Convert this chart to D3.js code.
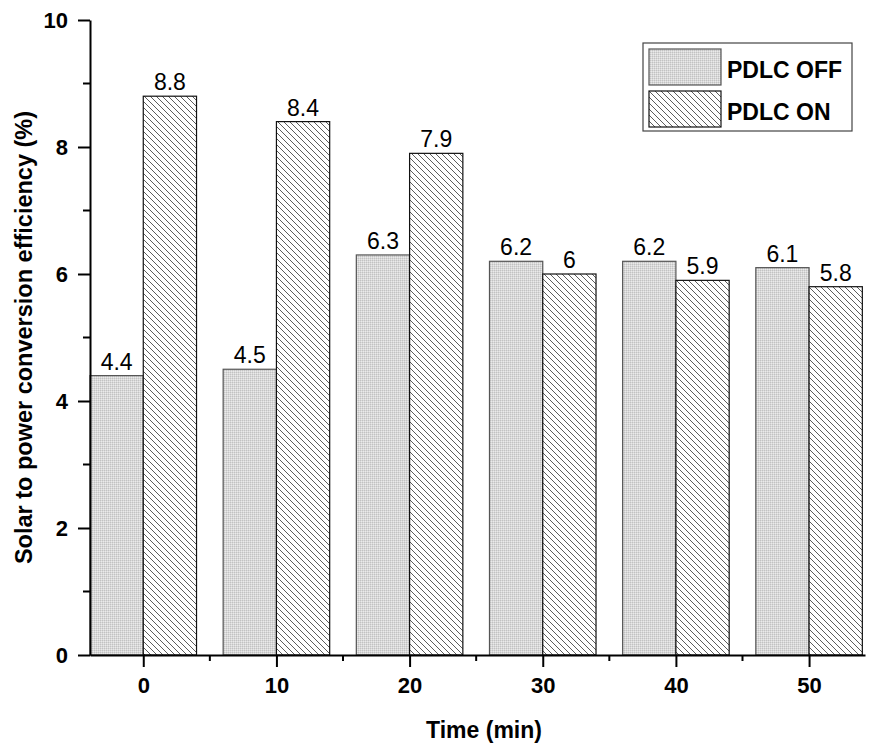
<!DOCTYPE html>
<html>
<head>
<meta charset="utf-8">
<script src="https://cdn.jsdelivr.net/npm/d3@7"></script>
<style>
  body { margin: 0; background: #fff; }
  text { font-family: "Liberation Sans", Arial, sans-serif; }
</style>
</head>
<body>
<div id="chart"></div>
<script>
const times = [0, 10, 20, 30, 40, 50];
const offValues = [4.4, 4.5, 6.3, 6.2, 6.2, 6.1];
const onValues = [8.8, 8.4, 7.9, 6, 5.9, 5.8];
const seriesNames = ["PDLC OFF", "PDLC ON"];
const yTicks = [0, 2, 4, 6, 8, 10];

const width = 870;
const height = 753;
const plotLeft = 90, plotRight = 865, plotTop = 20, plotBottom = 655;
const barW = 4; // in x units

const svg = d3.select("#chart")
  .append("svg")
  .attr("width", width)
  .attr("height", height);

const defs = svg.append("defs");

// dotted grey fill
const dots = defs.append("pattern")
  .attr("id", "dots")
  .attr("patternUnits", "userSpaceOnUse")
  .attr("width", 2)
  .attr("height", 2);
dots.append("rect").attr("width", 2).attr("height", 2).attr("fill", "#d8d8d8");
dots.append("rect").attr("width", 1).attr("height", 1).attr("fill", "#c2c2c2");
dots.append("rect").attr("x", 1).attr("y", 1).attr("width", 1).attr("height", 1).attr("fill", "#eaeaea");

// diagonal hatch
const hatch = defs.append("pattern")
  .attr("id", "hatch")
  .attr("patternUnits", "userSpaceOnUse")
  .attr("width", 6)
  .attr("height", 6);
hatch.append("rect").attr("width", 6).attr("height", 6).attr("fill", "#fff");
hatch.append("path")
  .attr("d", "M-1,-1 L7,7 M-1,5 L1,7 M5,-1 L7,1")
  .attr("stroke", "#333")
  .attr("stroke-width", 0.8);

const x = d3.scaleLinear().domain([-4, 54.2]).range([plotLeft, plotRight]);
const y = d3.scaleLinear().domain([0, 10]).range([plotBottom, plotTop]);

const series = [
  { name: seriesNames[0], values: offValues, fill: "url(#dots)", stroke: "#555", offset: -barW },
  { name: seriesNames[1], values: onValues, fill: "url(#hatch)", stroke: "#111", offset: 0 }
];

series.forEach((s) => {
  const g = svg.append("g");
  g.selectAll("rect")
    .data(times)
    .enter()
    .append("rect")
    .attr("x", (d) => x(d + s.offset))
    .attr("y", (d, i) => y(s.values[i]))
    .attr("width", x(barW) - x(0))
    .attr("height", (d, i) => y(0) - y(s.values[i]))
    .attr("fill", s.fill)
    .attr("stroke", s.stroke)
    .attr("stroke-width", 1.2);

  g.selectAll("text")
    .data(times)
    .enter()
    .append("text")
    .attr("x", (d) => x(d + s.offset + barW / 2))
    .attr("y", (d, i) => y(s.values[i]) - 6)
    .attr("text-anchor", "middle")
    .attr("font-size", 23)
    .text((d, i) => s.values[i]);
});

// x axis
const xAxis = d3.axisBottom(x).tickValues(times).tickSize(12).tickPadding(10).tickSizeOuter(0);
const gx = svg.append("g")
  .attr("transform", `translate(0, ${plotBottom})`)
  .call(xAxis);
gx.append("g").selectAll("line")
  .data([5, 15, 25, 35, 45])
  .enter()
  .append("line")
  .attr("x1", (d) => x(d)).attr("x2", (d) => x(d))
  .attr("y1", 0).attr("y2", 6)
  .attr("stroke", "#000").attr("stroke-width", 2);

// y axis
const yAxis = d3.axisLeft(y).tickValues(yTicks).tickSize(12).tickPadding(10).tickSizeOuter(0);
const gy = svg.append("g")
  .attr("transform", `translate(${plotLeft}, 0)`)
  .call(yAxis);
gy.append("g").selectAll("line")
  .data([1, 3, 5, 7, 9])
  .enter()
  .append("line")
  .attr("x1", 0).attr("x2", -7)
  .attr("y1", (d) => y(d)).attr("y2", (d) => y(d))
  .attr("stroke", "#000").attr("stroke-width", 2);

[gx, gy].forEach((g) => {
  g.select(".domain").attr("stroke", "#000").attr("stroke-width", 2);
  g.selectAll(".tick line").attr("stroke", "#000").attr("stroke-width", 2);
  g.selectAll(".tick text")
    .attr("font-family", "Liberation Sans, Arial, sans-serif")
    .attr("font-size", 22)
    .attr("font-weight", "bold")
    .attr("fill", "#000");
});

// axis titles
svg.append("text")
  .attr("x", 484)
  .attr("y", 738)
  .attr("text-anchor", "middle")
  .attr("font-size", 23)
  .attr("font-weight", "bold")
  .text("Time (min)");

svg.append("text")
  .attr("transform", `translate(32, ${(plotTop + plotBottom) / 2}) rotate(-90)`)
  .attr("text-anchor", "middle")
  .attr("font-size", 23.5)
  .attr("font-weight", "bold")
  .text("Solar to power conversion efficiency (%)");

// legend
const legend = svg.append("g");
legend.append("rect")
  .attr("x", 643).attr("y", 43)
  .attr("width", 209).attr("height", 88)
  .attr("fill", "#fff")
  .attr("stroke", "#444")
  .attr("stroke-width", 1.2);

series.forEach((s, i) => {
  legend.append("rect")
    .attr("x", 649).attr("y", 49 + i * 42)
    .attr("width", 72).attr("height", 36)
    .attr("fill", s.fill)
    .attr("stroke", s.stroke)
    .attr("stroke-width", 1.2);
  legend.append("text")
    .attr("x", 727).attr("y", 78 + i * 42)
    .attr("font-size", 23)
    .attr("font-weight", "bold")
    .text(s.name);
});
</script>
</body>
</html>
